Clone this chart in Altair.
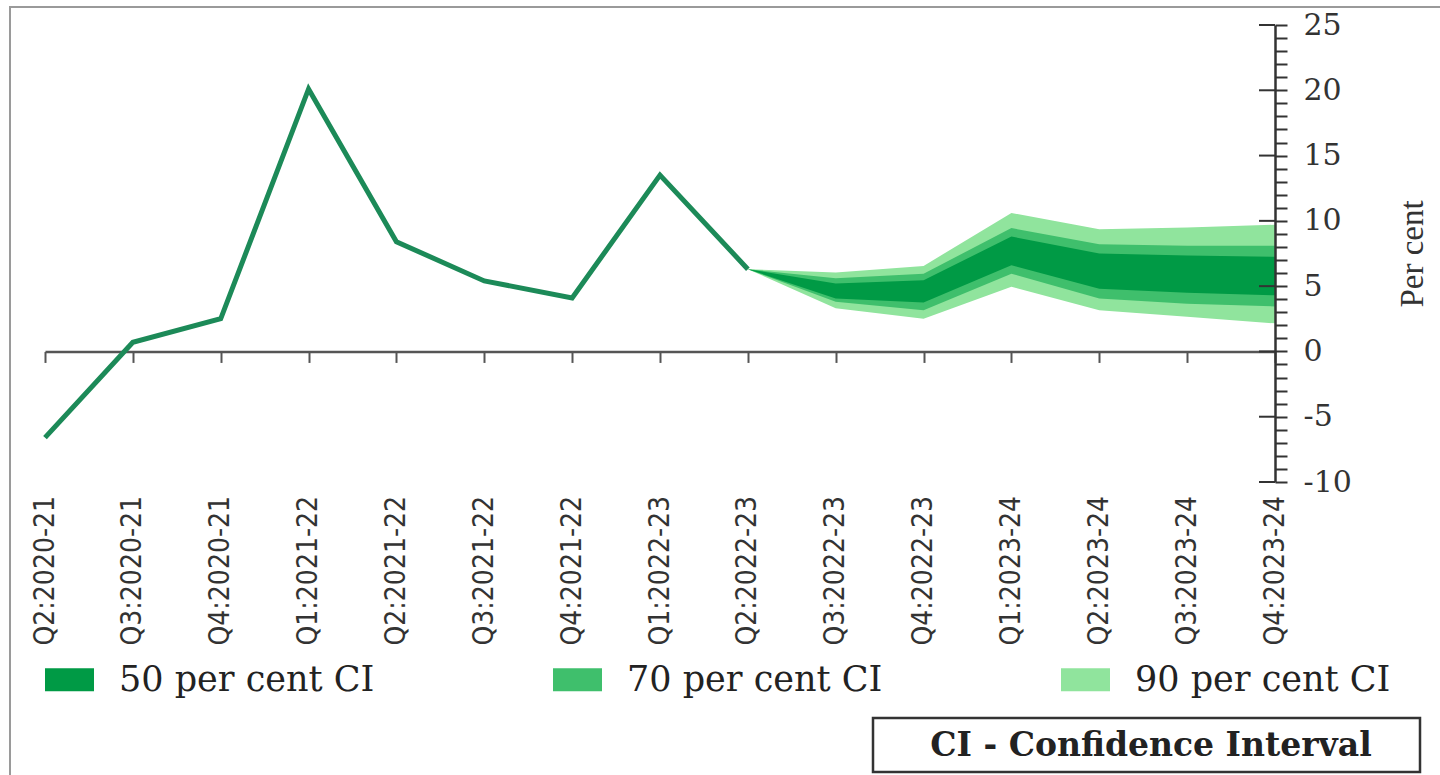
import altair as alt
import pandas as pd

# Quarter labels along the x axis
quarters = [
    "Q2:2020-21", "Q3:2020-21", "Q4:2020-21", "Q1:2021-22", "Q2:2021-22",
    "Q3:2021-22", "Q4:2021-22", "Q1:2022-23", "Q2:2022-23", "Q3:2022-23",
    "Q4:2022-23", "Q1:2023-24", "Q2:2023-24", "Q3:2023-24", "Q4:2023-24",
]

# Realised real GDP growth (per cent, y-o-y)
actual_quarters = quarters[:9]
actual_growth = [-6.6, 0.7, 2.5, 20.1, 8.4, 5.4, 4.1, 13.5, 6.3]

# Projection fan: lower/upper bounds of each confidence band
fan_quarters = quarters[8:]
ci50_low = [6.3, 4.05, 3.75, 6.6, 4.8, 4.5, 4.3]
ci50_high = [6.3, 5.2, 5.45, 8.8, 7.5, 7.35, 7.25]
ci70_low = [6.3, 3.8, 3.15, 5.95, 4.05, 3.65, 3.45]
ci70_high = [6.3, 5.6, 5.95, 9.45, 8.2, 8.1, 8.1]
ci90_low = [6.3, 3.3, 2.5, 4.95, 3.15, 2.65, 2.15]
ci90_high = [6.3, 6.05, 6.55, 10.6, 9.35, 9.5, 9.7]

band_names = ["50 per cent CI", "70 per cent CI", "90 per cent CI"]
band_colors = ["#009a45", "#3fbf6c", "#90e49d"]

y_ticks_minor = list(range(-10, 26))
y_ticks_major = list(range(-10, 26, 5))

W, H = 1230, 457
Y_MIN, Y_MAX = -10, 25

actual_df = pd.DataFrame({"quarter": actual_quarters, "growth": actual_growth})


def band_frame(name, low, high):
    return pd.DataFrame({"quarter": fan_quarters, "band": name, "low": low, "high": high})


x_enc = alt.X(
    "quarter:N",
    sort=quarters,
    scale=alt.Scale(type="point", padding=0, domain=quarters),
    axis=alt.Axis(
        title=None,
        labelAngle=270,
        labelFont="Liberation Sans Narrow, DejaVu Sans Condensed, Liberation Sans",
        labelFontSize=28,
        labelColor="#333333",
        labelPadding=133,
        tickSize=11,
        tickWidth=2,
        tickColor="#555555",
        domainColor="#555555",
        domainWidth=2.5,
        grid=False,
        labelOverlap=False,
        offset=-H * (0 - Y_MIN) / (Y_MAX - Y_MIN),
    ),
)

y_scale = alt.Scale(domain=[Y_MIN, Y_MAX], nice=False, zero=False)
y_axis = alt.Axis(
    orient="right",
    values=y_ticks_minor,
    labelExpr="datum.value % 5 == 0 ? toString(datum.value) : ''",
    labelFont="DejaVu Serif",
    labelFontSize=30,
    labelColor="#333333",
    labelPadding=16,
    labelOverlap=False,
    tickSize=12,
    tickWidth=2,
    tickColor="#333333",
    domainColor="#333333",
    domainWidth=2.5,
    grid=False,
    zindex=1,
    title="Per cent",
    titleFont="Liberation Serif",
    titleFontSize=33,
    titleFontWeight="normal",
    titleColor="#333333",
    titleAngle=270,
    titleAlign="center",
    titleBaseline="middle",
    titleX=137,
    titleY=H / 2,
)

color_scale = alt.Scale(domain=band_names, range=band_colors)


def band_layer(name, low, high):
    return (
        alt.Chart(band_frame(name, low, high))
        .mark_area(opacity=1)
        .encode(
            x=x_enc,
            y=alt.Y("low:Q", scale=y_scale, axis=y_axis),
            y2="high:Q",
            color=alt.Color(
                "band:N",
                scale=color_scale,
                legend=alt.Legend(
                    title=None,
                    orient="none",
                    legendX=0,
                    legendY=630,
                    direction="horizontal",
                    symbolType="M-1,-0.47L1,-0.47L1,0.47L-1,0.47Z",
                    symbolSize=2401,
                    symbolStrokeWidth=0,
                    symbolOpacity=1,
                    labelFont="DejaVu Serif",
                    labelFontSize=35,
                    labelColor="#222222",
                    labelOffset=25,
                    labelLimit=600,
                    columnPadding=178,
                ),
            ),
        )
    )


bands = [
    band_layer(band_names[2], ci90_low, ci90_high),
    band_layer(band_names[1], ci70_low, ci70_high),
    band_layer(band_names[0], ci50_low, ci50_high),
]

growth_line = (
    alt.Chart(actual_df)
    .mark_line(color="#1c8a58", strokeWidth=5, strokeJoin="miter")
    .encode(x=x_enc, y=alt.Y("growth:Q", scale=y_scale, axis=y_axis))
)

# Major y ticks also extend to the left of the axis line
major_df = pd.DataFrame({"v": y_ticks_major})
major_ticks = (
    alt.Chart(major_df)
    .mark_rule(color="#333333", strokeWidth=2)
    .encode(x=alt.value(W - 16), x2=alt.value(W), y=alt.Y("v:Q", scale=y_scale, axis=y_axis))
)

# Outer frame of the figure
frame = (
    alt.Chart(pd.DataFrame({"k": [0]}))
    .mark_rect(fill=None, stroke="#9a9a9a", strokeWidth=2)
    .encode(x=alt.value(-35), x2=alt.value(W + 200), y=alt.value(-18), y2=alt.value(H + 400))
)

# Note box explaining the abbreviation
note_box = (
    alt.Chart(pd.DataFrame({"k": [0]}))
    .mark_rect(fill="white", stroke="#333333", strokeWidth=2.5)
    .encode(x=alt.value(828), x2=alt.value(1375), y=alt.value(693), y2=alt.value(747))
)
note_text = (
    alt.Chart(pd.DataFrame({"t": ["CI - Confidence Interval"]}))
    .mark_text(font="DejaVu Serif", fontSize=33, fontWeight="bold", color="#222222",
               align="center", baseline="middle")
    .encode(x=alt.value(1106), y=alt.value(721), text="t:N")
)

chart = (
    alt.layer(frame, *bands, growth_line, major_ticks, note_box, note_text)
    .properties(
        width=W,
        height=H,
        autosize=alt.AutoSizeParams(type="none"),
        padding={"left": 45, "top": 25, "right": 1440 - 45 - W, "bottom": 775 - 25 - H},
        background="white",
    )
    .configure_view(strokeWidth=0)
)

chart.save("out.html", embed_options={"renderer": "svg", "actions": False})
